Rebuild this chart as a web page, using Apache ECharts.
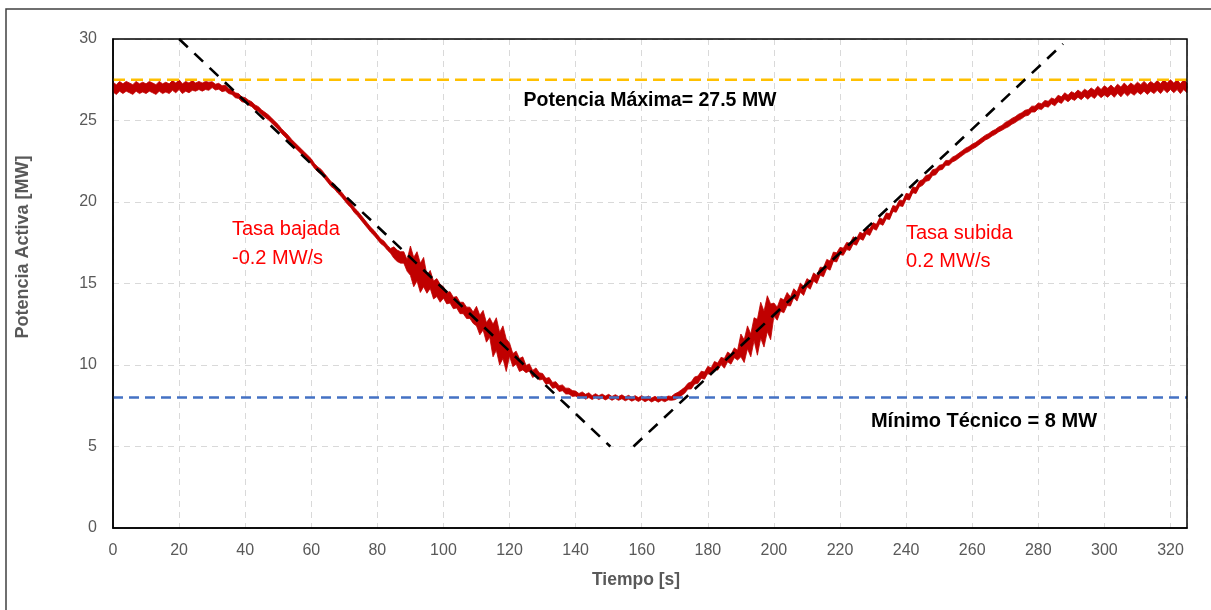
<!DOCTYPE html>
<html>
<head>
<meta charset="utf-8">
<script src="https://cdn.jsdelivr.net/npm/echarts@6/dist/echarts.min.js"></script>
<style>
html,body{margin:0;padding:0;background:#fff;}
#chart{width:1211px;height:610px;}
</style>
</head>
<body>
<div id="chart"></div>
<script>
// ---- data ----
const sampleStepS = 1; // seconds between samples, first sample at t = 0
const activePowerMW = [
27.05, 26.9, 27.1, 26.95, 27.1, 27.0, 26.9, 27.1, 26.95, 27.05,
26.95, 27.1, 27.0, 26.9, 27.1, 26.95, 27.05, 26.95, 27.15, 27.0,
27.2, 26.95, 27.1, 27.0, 27.15, 27.05, 27.15, 27.05, 27.15, 27.1,
27.2, 27.05, 27.1, 26.95, 27.0, 26.8, 26.75, 26.55, 26.5, 26.3,
26.25, 26.1, 26.0, 25.8, 25.7, 25.5, 25.35, 25.2, 25.0, 24.8,
24.6, 24.35, 24.15, 23.95, 23.7, 23.5, 23.3, 23.1, 22.9, 22.7,
22.5, 22.2, 22.0, 21.85, 21.6, 21.35, 21.1, 20.95, 20.7, 20.5,
20.25, 20.0, 19.8, 19.5, 19.3, 19.05, 18.8, 18.55, 18.3, 18.1,
17.85, 17.6, 17.45, 17.2, 17.0, 16.9, 16.7, 16.6, 16.6, 16.1,
16.4, 15.7, 16.05, 15.35, 15.7, 14.95, 15.25, 14.6, 14.75, 14.4,
14.45, 14.1, 14.15, 13.8, 13.85, 13.5, 13.5, 13.2, 13.2, 12.9,
13.0, 12.45, 12.75, 12.0, 12.3, 11.5, 11.9, 11.0, 11.4, 10.6,
10.95, 10.3, 10.45, 10.0, 10.1, 9.75, 9.85, 9.45, 9.6, 9.3,
9.3, 9.0, 9.05, 8.75, 8.8, 8.55, 8.6, 8.4, 8.4, 8.25,
8.25, 8.1, 8.2, 8.05, 8.15, 8.0, 8.12, 8.0, 8.1, 7.98,
8.08, 7.95, 8.06, 7.95, 8.05, 7.92, 8.02, 7.9, 8.0, 7.88,
8.0, 7.86, 7.98, 7.85, 7.96, 7.84, 7.95, 7.86, 7.98, 7.95,
8.05, 8.15, 8.3, 8.45, 8.7, 8.75, 9.05, 9.1, 9.4, 9.35,
9.7, 9.6, 10.0, 9.9, 10.25, 10.1, 10.5, 10.35, 10.75, 10.6,
11.2, 10.85, 11.7, 11.2, 12.2, 11.7, 12.75, 12.2, 13.15, 12.65,
13.4, 13.15, 13.7, 13.6, 14.05, 13.9, 14.4, 14.2, 14.75, 14.55,
15.05, 14.9, 15.4, 15.25, 15.75, 15.7, 16.2, 16.1, 16.65, 16.6,
17.0, 16.95, 17.3, 17.25, 17.65, 17.55, 17.95, 17.85, 18.25, 18.15,
18.55, 18.45, 18.85, 18.75, 19.15, 19.1, 19.6, 19.55, 19.95, 19.9,
20.35, 20.3, 20.75, 20.7, 21.1, 21.2, 21.45, 21.5, 21.8, 21.85,
22.1, 22.15, 22.4, 22.4, 22.6, 22.7, 22.85, 23.0, 23.15, 23.25,
23.4, 23.5, 23.65, 23.8, 23.95, 24.05, 24.2, 24.3, 24.45, 24.55,
24.7, 24.8, 24.95, 25.05, 25.2, 25.3, 25.45, 25.5, 25.7, 25.7,
25.9, 25.85, 26.05, 26.0, 26.2, 26.1, 26.35, 26.25, 26.5, 26.35,
26.55, 26.45, 26.65, 26.5, 26.7, 26.55, 26.75, 26.6, 26.85, 26.65,
26.85, 26.7, 26.9, 26.7, 26.95, 26.75, 27.0, 26.8, 27.0, 26.85,
27.05, 26.9, 27.1, 26.9, 27.1, 26.95, 27.15, 26.95, 27.2, 27.0,
27.2, 27.0, 27.2, 26.95, 27.2, 27.0
];
// half-width of the measurement noise band, one value per 5 s block (t = 0, 5, ..., 325)
const noiseBlockS = 5;
const noiseHalfWidthMW = [
0.3, 0.3, 0.3, 0.3, 0.3, 0.25, 0.18, 0.15, 0.15, 0.15,
0.15, 0.15, 0.15, 0.15, 0.15, 0.15, 0.15, 0.35, 0.9, 0.55,
0.35, 0.35, 0.6, 1.0, 0.4, 0.22, 0.18, 0.18, 0.15, 0.12,
0.12, 0.12, 0.12, 0.12, 0.18, 0.22, 0.22, 0.3, 0.7, 1.1,
0.4, 0.28, 0.25, 0.28, 0.22, 0.2, 0.18, 0.18, 0.18, 0.18,
0.15, 0.15, 0.15, 0.15, 0.18, 0.18, 0.18, 0.2, 0.22, 0.25,
0.28, 0.3, 0.3, 0.3, 0.3, 0.3
];
const rampDownLine = [[20, 30], [150.5, 5]];   // Tasa bajada -0.2 MW/s
const rampUpLine = [[157.5, 5], [287.5, 29.7]]; // Tasa subida 0.2 MW/s
const maxPowerMW = 27.5;
const minTechMW = 8;
const xRange = [0, 325];
const yRange = [0, 30];
const xTickStep = 20;
const yTickStep = 5;

// ---- build ----
const powerSeries = activePowerMW.map((v, i) => [i * sampleStepS, v]);
const hwAt = i => noiseHalfWidthMW[Math.floor(i * sampleStepS / noiseBlockS)];

const FONT = '"Liberation Sans", "DejaVu Sans", sans-serif';
const GRAY = '#595959';
const RED = '#c00000';

function renderNoiseBand(params, api) {
  if (params.dataIndex !== 0) return null;
  const pts = [];
  for (let i = 0; i < activePowerMW.length; i++) {
    pts.push(api.coord([i * sampleStepS, activePowerMW[i] + hwAt(i)]));
  }
  for (let i = activePowerMW.length - 1; i >= 0; i--) {
    pts.push(api.coord([i * sampleStepS, activePowerMW[i] - hwAt(i)]));
  }
  return {type: 'polygon', shape: {points: pts}, style: {fill: RED, stroke: RED, lineWidth: 0.8}};
}

const chart = echarts.init(document.getElementById('chart'), null, {renderer: 'canvas'});
chart.setOption({
  backgroundColor: '#ffffff',
  animation: false,
  grid: {left: 113, top: 39, right: 24, bottom: 82, show: false},
  xAxis: {
    type: 'value', min: xRange[0], max: xRange[1], interval: xTickStep,
    axisLine: {show: true, onZero: false, lineStyle: {color: '#000', width: 1.5}},
    axisTick: {show: false},
    axisLabel: {color: GRAY, fontSize: 16, fontFamily: FONT, margin: 15, showMaxLabel: false,
      formatter: v => (v % xTickStep === 0 ? String(v) : '')},
    splitLine: {show: true, lineStyle: {color: '#d9d9d9', width: 1, type: [6, 5]}}
  },
  yAxis: {
    type: 'value', min: yRange[0], max: yRange[1], interval: yTickStep,
    axisLine: {show: true, lineStyle: {color: '#000', width: 1.5}},
    axisTick: {show: false},
    axisLabel: {color: GRAY, fontSize: 16, fontFamily: FONT, margin: 16},
    splitLine: {show: true, lineStyle: {color: '#d9d9d9', width: 1, type: [6, 5]}}
  },
  series: [
    {type: 'custom', name: 'noise band', data: [powerSeries[0]], renderItem: renderNoiseBand,
      encode: {x: 0, y: 1}, silent: true, z: 2},
    {type: 'line', name: 'Potencia Activa', data: powerSeries, showSymbol: false, symbol: 'none',
      sampling: null, lineStyle: {color: RED, width: 2.2, join: 'round'}, z: 2},
    {type: 'line', name: 'Potencia Máxima', data: [[xRange[0], maxPowerMW], [xRange[1], maxPowerMW]], symbol: 'none',
      lineStyle: {color: '#ffc000', width: 2.5, type: [12, 6]}, z: 3},
    {type: 'line', name: 'Mínimo Técnico', data: [[xRange[0], minTechMW], [xRange[1], minTechMW]], symbol: 'none',
      lineStyle: {color: '#4472c4', width: 2.5, type: [10, 6]}, z: 3},
    {type: 'line', name: 'Tasa bajada', data: rampDownLine, symbol: 'none',
      lineStyle: {color: '#000', width: 2.6, type: [12, 9]}, z: 4},
    {type: 'line', name: 'Tasa subida', data: rampUpLine, symbol: 'none',
      lineStyle: {color: '#000', width: 2.6, type: [12, 9]}, z: 4}
  ],
  graphic: [
    {type: 'rect', z: -10, silent: true, shape: {x: 6, y: 9, width: 1300, height: 700},
      style: {fill: 'none', stroke: '#404040', lineWidth: 1.5}},
    {type: 'rect', z: 100, silent: true, shape: {x: 113, y: 39, width: 1074, height: 489},
      style: {fill: 'none', stroke: '#000', lineWidth: 1.5}},
    {type: 'text', x: 23.5, y: 247, rotation: Math.PI / 2, z: 10,
      style: {text: 'Potencia Activa [MW]', fill: GRAY, font: 'bold 18px ' + FONT, align: 'center', verticalAlign: 'middle'}},
    {type: 'text', x: 636, y: 580, z: 10,
      style: {text: 'Tiempo [s]', fill: GRAY, font: 'bold 17.5px ' + FONT, align: 'center', verticalAlign: 'middle'}},
    {type: 'text', x: 650, y: 101, z: 10,
      style: {text: 'Potencia Máxima= 27.5 MW', fill: '#000', font: 'bold 19.5px ' + FONT, align: 'center', verticalAlign: 'middle'}},
    {type: 'text', x: 984, y: 421, z: 10,
      style: {text: 'Mínimo Técnico = 8 MW', fill: '#000', font: 'bold 20px ' + FONT, align: 'center', verticalAlign: 'middle'}},
    {type: 'text', x: 232, y: 229, z: 10,
      style: {text: 'Tasa bajada', fill: '#ff0000', font: '20px ' + FONT, align: 'left', verticalAlign: 'middle'}},
    {type: 'text', x: 232, y: 258, z: 10,
      style: {text: '-0.2 MW/s', fill: '#ff0000', font: '20px ' + FONT, align: 'left', verticalAlign: 'middle'}},
    {type: 'text', x: 906, y: 233, z: 10,
      style: {text: 'Tasa subida', fill: '#ff0000', font: '20px ' + FONT, align: 'left', verticalAlign: 'middle'}},
    {type: 'text', x: 906, y: 261, z: 10,
      style: {text: '0.2 MW/s', fill: '#ff0000', font: '20px ' + FONT, align: 'left', verticalAlign: 'middle'}}
  ]
});
</script>
</body>
</html>
